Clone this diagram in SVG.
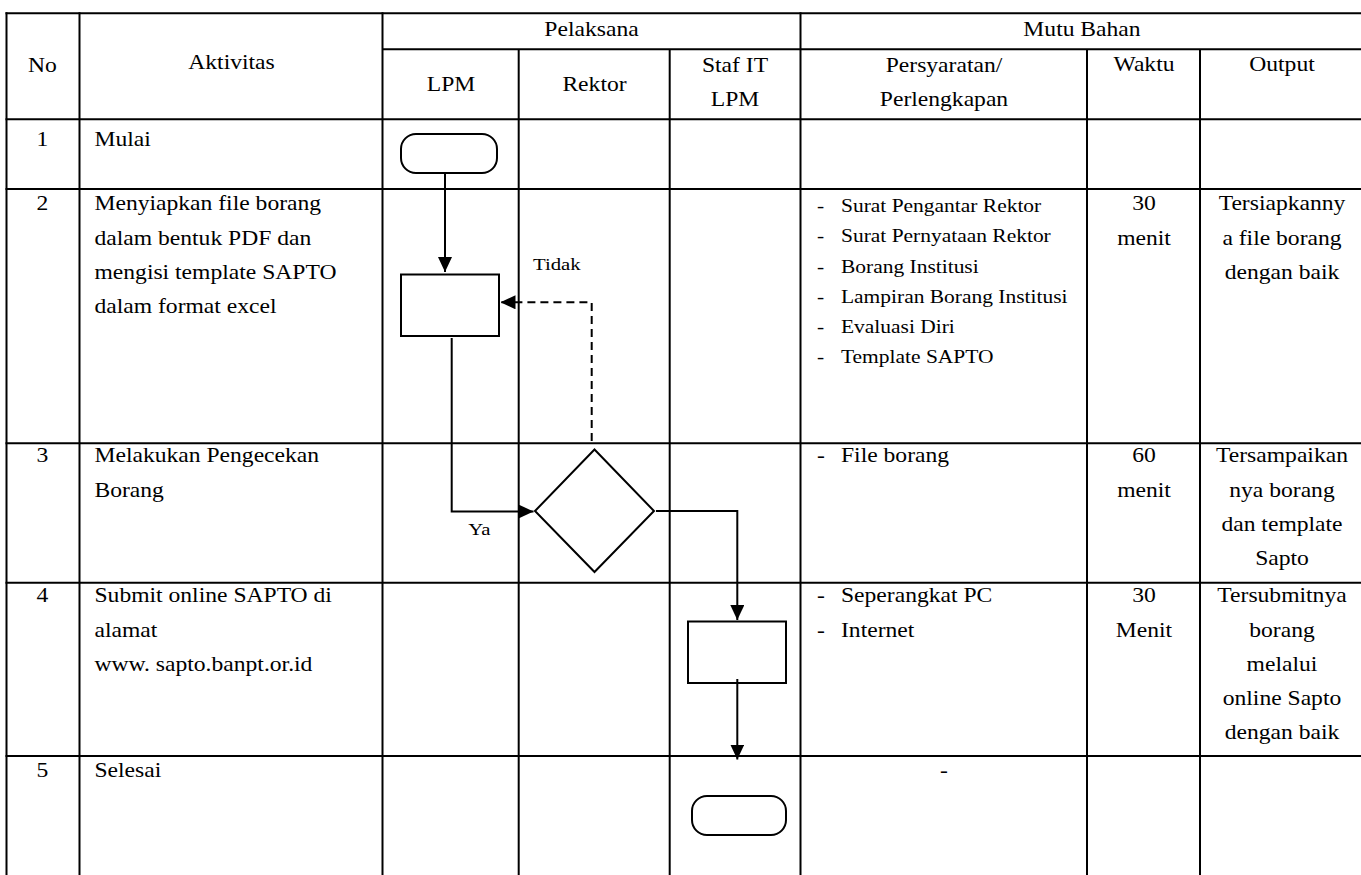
<svg xmlns="http://www.w3.org/2000/svg" width="1361" height="875" viewBox="0 0 1361 875">
  <style>
    .grid { stroke: #000; stroke-width: 2; fill: none; }
    .shape { stroke: #000; stroke-width: 2; fill: #fff; }
    .conn { stroke: #000; stroke-width: 2; fill: none; }
    .dash { stroke-dasharray: 8 5; }
    text { font-family: "Liberation Serif", "Times New Roman", serif; fill: #000; }
    .t { font-size: 20px; }
    .s { font-size: 18.2px; }
    .lbl { font-size: 17.6px; }
    .c { text-anchor: middle; }
  </style>
  <defs>
    <marker id="arrow" markerUnits="userSpaceOnUse" markerWidth="15" markerHeight="14" refX="15" refY="7" orient="auto">
      <path d="M0,0 L15,7 L0,14 z" fill="#000"/>
    </marker>
  </defs>
  <rect width="1361" height="875" fill="#fff"/>

  <g id="table" class="grid">
    <line x1="5.5" y1="13.3" x2="1361" y2="13.3"/>
    <line x1="382.5" y1="49.3" x2="1361" y2="49.3"/>
    <line x1="5.5" y1="119.3" x2="1361" y2="119.3"/>
    <line x1="5.5" y1="189" x2="1361" y2="189"/>
    <line x1="5.5" y1="443.3" x2="1361" y2="443.3"/>
    <line x1="5.5" y1="582.7" x2="1361" y2="582.7"/>
    <line x1="5.5" y1="756" x2="1361" y2="756"/>
    <line x1="6.5" y1="12.3" x2="6.5" y2="875"/>
    <line x1="79.5" y1="12.3" x2="79.5" y2="875"/>
    <line x1="382.5" y1="12.3" x2="382.5" y2="875"/>
    <line x1="518.7" y1="49.3" x2="518.7" y2="875"/>
    <line x1="669.7" y1="49.3" x2="669.7" y2="875"/>
    <line x1="800.5" y1="12.3" x2="800.5" y2="875"/>
    <line x1="1087" y1="49.3" x2="1087" y2="875"/>
    <line x1="1200" y1="49.3" x2="1200" y2="875"/>
  </g>

  <g id="cell-text" transform="scale(1.18 1)">
    <!-- header -->
    <text class="t c" x="36.02" y="72">No</text>
    <text class="t c" x="196.19" y="69">Aktivitas</text>
    <text class="t c" x="501.27" y="36">Pelaksana</text>
    <text class="t c" x="916.95" y="36">Mutu Bahan</text>
    <text class="t c" x="382.2" y="91.5">LPM</text>
    <text class="t c" x="503.81" y="91.5">Rektor</text>
    <text class="t c" x="622.88" y="72.5">Staf IT</text>
    <text class="t c" x="622.88" y="106">LPM</text>
    <text class="t c" x="800" y="72">Persyaratan/</text>
    <text class="t c" x="800" y="106">Perlengkapan</text>
    <text class="t c" x="969.49" y="71">Waktu</text>
    <text class="t c" x="1086.44" y="71">Output</text>

    <!-- row 1 -->
    <text class="t c" x="36.02" y="146.5">1</text>
    <text class="t" x="80.08" y="146.5">Mulai</text>

    <!-- row 2 -->
    <text class="t c" x="36.02" y="210.5">2</text>
    <text class="t" x="80.08" y="210.5">Menyiapkan file borang</text>
    <text class="t" x="80.08" y="244.7">dalam bentuk PDF dan</text>
    <text class="t" x="80.08" y="278.9">mengisi template SAPTO</text>
    <text class="t" x="80.08" y="313.1">dalam format excel</text>
    <text class="s" x="692.37" y="212">-</text>
    <text class="s" x="712.71" y="212">Surat Pengantar Rektor</text>
    <text class="s" x="692.37" y="242.3">-</text>
    <text class="s" x="712.71" y="242.3">Surat Pernyataan Rektor</text>
    <text class="s" x="692.37" y="272.6">-</text>
    <text class="s" x="712.71" y="272.6">Borang Institusi</text>
    <text class="s" x="692.37" y="302.9">-</text>
    <text class="s" x="712.71" y="302.9">Lampiran Borang Institusi</text>
    <text class="s" x="692.37" y="333.2">-</text>
    <text class="s" x="712.71" y="333.2">Evaluasi Diri</text>
    <text class="s" x="692.37" y="363.5">-</text>
    <text class="s" x="712.71" y="363.5">Template SAPTO</text>
    <text class="t c" x="969.49" y="210.5">30</text>
    <text class="t c" x="969.49" y="244.7">menit</text>
    <text class="t c" x="1086.44" y="210.5">Tersiapkanny</text>
    <text class="t c" x="1086.44" y="244.7">a file borang</text>
    <text class="t c" x="1086.44" y="278.9">dengan baik</text>

    <!-- row 3 -->
    <text class="t c" x="36.02" y="462.5">3</text>
    <text class="t" x="80.08" y="462.5">Melakukan Pengecekan</text>
    <text class="t" x="80.08" y="496.7">Borang</text>
    <text class="t" x="692.37" y="462.5">-</text>
    <text class="t" x="712.71" y="462.5">File borang</text>
    <text class="t c" x="969.49" y="462.5">60</text>
    <text class="t c" x="969.49" y="496.7">menit</text>
    <text class="t c" x="1086.44" y="462.5">Tersampaikan</text>
    <text class="t c" x="1086.44" y="496.7">nya borang</text>
    <text class="t c" x="1086.44" y="530.9">dan template</text>
    <text class="t c" x="1086.44" y="565.1">Sapto</text>

    <!-- row 4 -->
    <text class="t c" x="36.02" y="602.5">4</text>
    <text class="t" x="80.08" y="602.5">Submit online SAPTO di</text>
    <text class="t" x="80.08" y="636.7">alamat</text>
    <text class="t" x="80.08" y="670.9">www. sapto.banpt.or.id</text>
    <text class="t" x="692.37" y="602.5">-</text>
    <text class="t" x="712.71" y="602.5">Seperangkat PC</text>
    <text class="t" x="692.37" y="636.7">-</text>
    <text class="t" x="712.71" y="636.7">Internet</text>
    <text class="t c" x="969.49" y="602.5">30</text>
    <text class="t c" x="969.49" y="636.7">Menit</text>
    <text class="t c" x="1086.44" y="602.5">Tersubmitnya</text>
    <text class="t c" x="1086.44" y="636.7">borang</text>
    <text class="t c" x="1086.44" y="670.9">melalui</text>
    <text class="t c" x="1086.44" y="705.1">online Sapto</text>
    <text class="t c" x="1086.44" y="739.3">dengan baik</text>

    <!-- row 5 -->
    <text class="t c" x="36.02" y="777.5">5</text>
    <text class="t" x="80.08" y="777.5">Selesai</text>
    <text class="t c" x="800" y="777.5">-</text>
  </g>

  <g id="node-start">
    <rect class="shape" x="401" y="134" width="96" height="39" rx="15" ry="15"/>
  </g>
  <g id="node-prepare">
    <rect class="shape" x="401" y="274.5" width="98" height="61.5"/>
  </g>
  <g id="node-check">
    <polygon class="shape" points="535,511 594.5,449.5 654,511 594.5,572"/>
  </g>
  <g id="node-submit">
    <rect class="shape" x="688" y="621.5" width="98" height="61.5"/>
  </g>
  <g id="node-end">
    <rect class="shape" x="692" y="796" width="94" height="39" rx="15" ry="15"/>
  </g>

  <g id="connectors">
    <path class="conn" d="M445,173 V272" marker-end="url(#arrow)"/>
    <path class="conn" d="M451.7,338 V511.5 H533.5" marker-end="url(#arrow)"/>
    <path class="conn" d="M656,511 H737.3 V620" marker-end="url(#arrow)"/>
    <path class="conn" d="M737.3,679 V759.5" marker-end="url(#arrow)"/>
    <path class="conn dash" d="M591.7,441 V302.3 H500.5" marker-end="url(#arrow)"/>
    <g transform="scale(1.18 1)">
      <text class="lbl" x="451.69" y="270.5">Tidak</text>
      <text class="lbl" x="396.86" y="535">Ya</text>
    </g>
  </g>
</svg>
